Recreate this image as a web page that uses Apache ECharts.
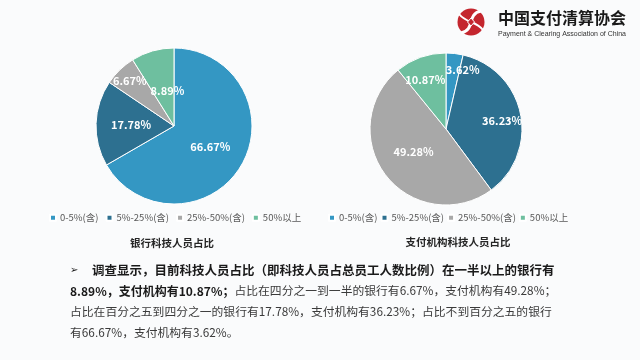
<!DOCTYPE html>
<html>
<head>
<meta charset="utf-8">
<script src="https://cdn.jsdelivr.net/npm/echarts@6/dist/echarts.min.js"></script>
<style>
html,body{margin:0;padding:0;background:#fafbfc;}
#c{width:640px;height:360px;}
</style>
</head>
<body>
<div id="c"></div>
<script>
const categories = ['0-5%(含)', '5%-25%(含)', '25%-50%(含)', '50%以上'];
const bankValues = [66.67, 17.78, 6.67, 8.89];
const payValues = [3.62, 36.23, 49.28, 10.87];
const bankTitle = '银行科技人员占比';
const payTitle = '支付机构科技人员占比';
const orgName = '中国支付清算协会';
const orgNameEn = 'Payment & Clearing Association of China';
const paragraphLines = [
  [['b', '调查显示，目前科技人员占比（即科技人员占总员工人数比例）在一半以上的银行有']],
  [['b2', '8.89%，支付机构有10.87%；'], ['r', '占比在四分之一到一半的银行有6.67%，支付机构有49.28%；']],
  [['r', '占比在百分之五到四分之一的银行有17.78%，支付机构有36.23%；占比不到百分之五的银行']],
  [['r', '有66.67%，支付机构有3.62%。']]
];

const colors = ['#3497c3', '#2d7090', '#a8a8a8', '#6ebf9f'];
const FONT = '"Noto Sans CJK SC", "Noto Sans", sans-serif';
// label nudges (styling only), per series, per slice
const labelNudge = [
  [[0, 0], [-1, 0], [-15, -15], [5, 5]],
  [[12, -18], [16, 0], [0, -2], [-7, -11]]
];

function pieSeries(values, center, radius) {
  return {
    type: 'pie',
    center: center,
    radius: radius,
    startAngle: 90,
    clockwise: true,
    silent: true,
    data: categories.map((n, i) => ({ name: n, value: values[i] })),
    itemStyle: { borderColor: '#ffffff', borderWidth: 1 },
    label: {
      show: true, position: 'inside', formatter: '{c}%',
      color: '#ffffff', fontWeight: 'bold', fontSize: 11, fontFamily: FONT
    },
    labelLine: { show: false },
    labelLayout: function (p) {
      const n = labelNudge[p.seriesIndex][p.dataIndex];
      return { hideOverlap: false, dx: n[0], dy: n[1] };
    }
  };
}

function legendCfg(left, gap) {
  return {
    data: categories, left: left, top: 213, padding: 0, icon: 'rect',
    itemWidth: 6, itemHeight: 6, itemGap: gap,
    textStyle: { fontSize: 9.5, color: '#595959', fontFamily: FONT, padding: [0, 0, 0, -1] }
  };
}

const lineX = [92, 70, 70, 70];
const lineY = [270, 291, 312, 333];
const graphics = [];
graphics.push({ type: 'text', x: 70, y: 270, style: { text: '➢', verticalAlign: 'middle', font: '10px "DejaVu Sans"', fill: '#1a1a1a' } });
paragraphLines.forEach((segs, i) => {
  graphics.push({
    type: 'text', x: lineX[i], y: lineY[i],
    style: {
      text: segs.map(s => '{' + s[0] + '|' + s[1] + '}').join(''),
      verticalAlign: 'middle',
      rich: {
        b: { fontSize: 12.5, fontWeight: 'bold', fill: '#1a1a1a', fontFamily: FONT },
        b2: { fontSize: 12, fontWeight: 'bold', fill: '#1a1a1a', fontFamily: FONT },
        r: { fontSize: 11.8, fill: '#3a3a3a', fontFamily: FONT }
      }
    }
  });
});
graphics.push({ type: 'text', x: 172, y: 243, style: { text: bankTitle, align: 'center', verticalAlign: 'middle', font: 'bold 10.5px ' + FONT, fill: '#262626' } });
graphics.push({ type: 'text', x: 458, y: 242, style: { text: payTitle, align: 'center', verticalAlign: 'middle', font: 'bold 10.5px ' + FONT, fill: '#262626' } });
// logo
graphics.push({ type: 'circle', shape: { cx: 471, cy: 22, r: 13.5 }, style: { fill: '#c4262e' } });
graphics.push({ type: 'bezierCurve', shape: { x1: 481, y1: 11, cpx1: 466, cpy1: 14, cpx2: 476, cpy2: 30, x2: 461, y2: 33 }, style: { fill: 'none', stroke: '#ffffff', lineWidth: 3 } });
graphics.push({ type: 'bezierCurve', shape: { x1: 459, y1: 14, cpx1: 466, cpy1: 23, cpx2: 476, cpy2: 21, x2: 483, y2: 30 }, style: { fill: 'none', stroke: '#ffffff', lineWidth: 2 } });
graphics.push({ type: 'polygon', shape: { points: [[471, 18], [474.5, 22], [471, 26], [467.5, 22]] }, style: { fill: '#c4262e', stroke: '#ffffff', lineWidth: 1 } });
graphics.push({ type: 'text', x: 498, y: 18, style: { text: orgName, verticalAlign: 'middle', font: 'bold 16px ' + FONT, fill: '#1a1a1a' } });
graphics.push({ type: 'text', x: 498, y: 34, style: { text: orgNameEn, verticalAlign: 'middle', font: '7px "Liberation Sans", sans-serif', fill: '#333333' } });

const chart = echarts.init(document.getElementById('c'), null, { renderer: 'canvas' });
chart.setOption({
  backgroundColor: '#fafbfc',
  animation: false,
  color: colors,
  legend: [legendCfg(49, 7), legendCfg(328, 3)],
  series: [
    pieSeries(bankValues, [174, 126], 78),
    pieSeries(payValues, [446, 129], 76)
  ],
  graphic: graphics
});
</script>
</body>
</html>
